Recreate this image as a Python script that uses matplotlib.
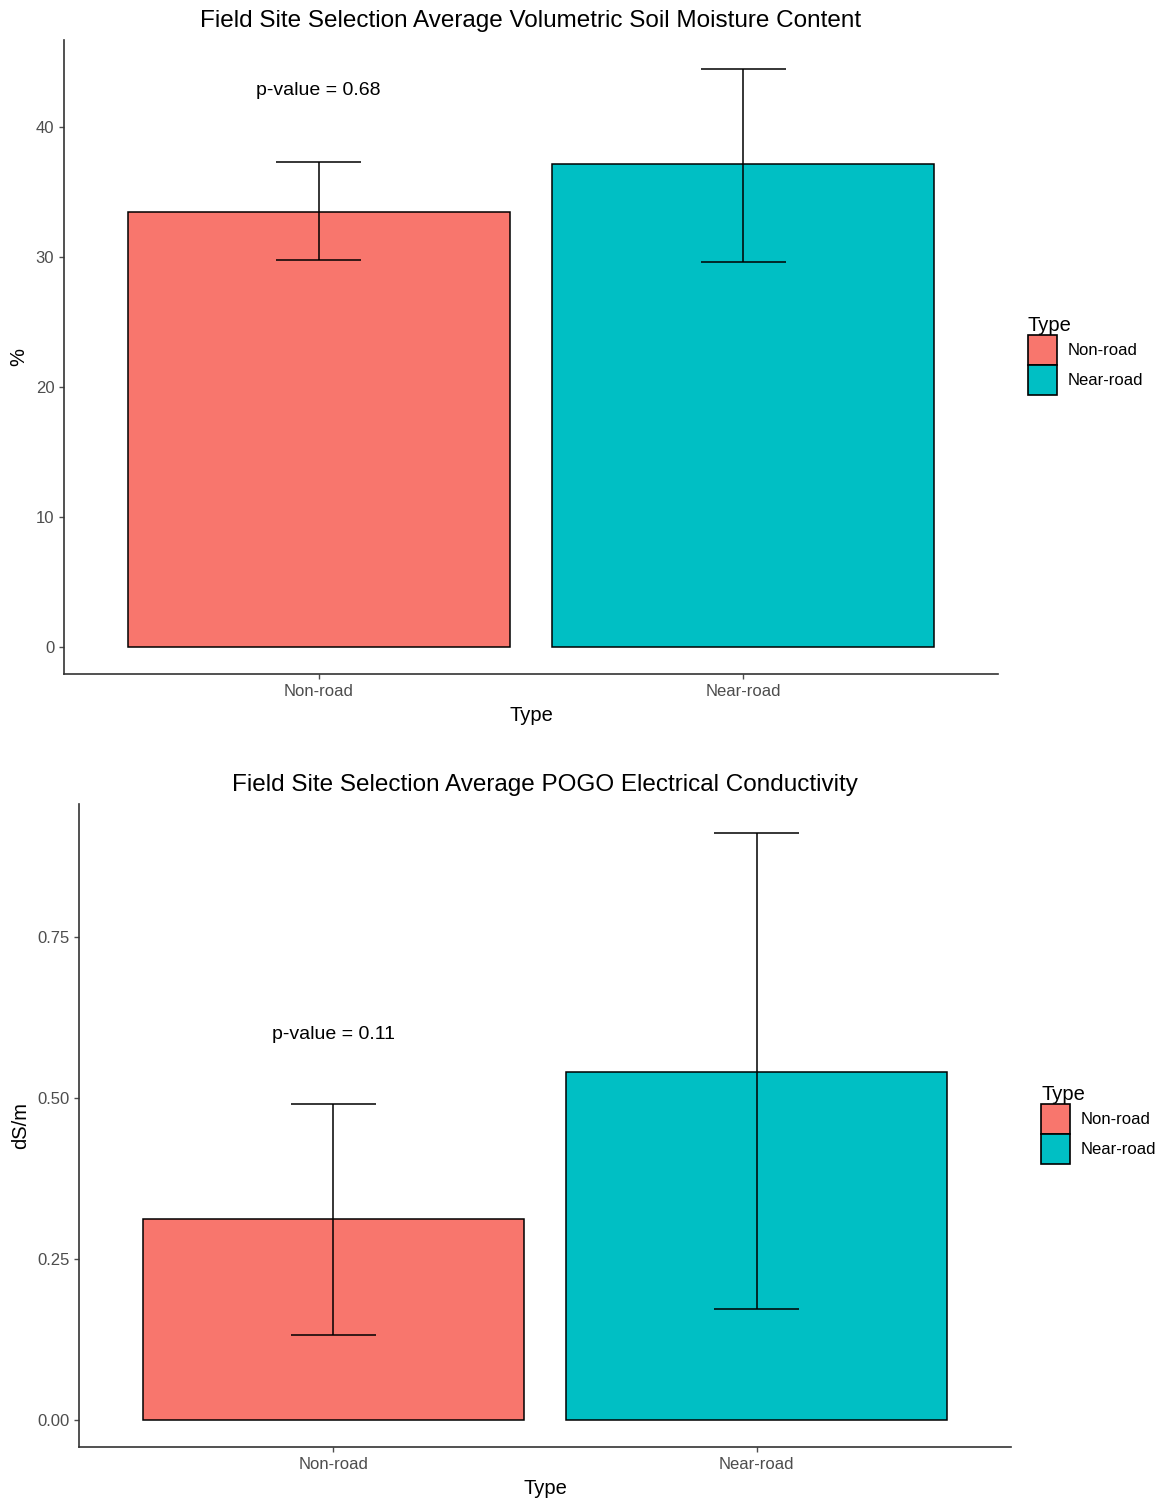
import matplotlib
matplotlib.use("Agg")
import matplotlib.pyplot as plt
from matplotlib.patches import Patch

plt.rcParams['font.family'] = ['Liberation Sans', 'DejaVu Sans']

# data
types = ["Non-road", "Near-road"]
colors = ["#F8766D", "#00BFC4"]

vsm_mean = [33.5, 37.15]
vsm_lo = [29.8, 29.65]
vsm_hi = [37.35, 44.5]
vsm_p = "p-value = 0.68"
vsm_ticks = [0, 10, 20, 30, 40]

ec_mean = [0.312, 0.540]
ec_lo = [0.132, 0.172]
ec_hi = [0.491, 0.911]
ec_p = "p-value = 0.11"
ec_ticks = [0.00, 0.25, 0.50, 0.75]
ec_ticklabels = ["0.00", "0.25", "0.50", "0.75"]

W, H = 1162, 1502
fig = plt.figure(figsize=(W / 100, H / 100), dpi=100)


def px_axes(left, top, right, bottom):
    return fig.add_axes([left / W, 1 - bottom / H, (right - left) / W, (bottom - top) / H])


def panel(ax, means, lo, hi, title, ylabel, ticks, ticklabels, ylim, ptxt, py, legend_xy):
    x = list(range(1, len(types) + 1))
    ax.bar(x, means, width=0.9, color=colors, edgecolor="black", linewidth=1.1, zorder=2)
    ax.vlines(x, lo, hi, color="black", linewidth=1.1, zorder=3)
    ax.hlines(lo, [i - 0.1 for i in x], [i + 0.1 for i in x], color="black", linewidth=1.1, zorder=3)
    ax.hlines(hi, [i - 0.1 for i in x], [i + 0.1 for i in x], color="black", linewidth=1.1, zorder=3)
    ax.text(1, py, ptxt, ha="center", va="center", fontsize=14, color="black")

    ax.set_xlim(0.4, 2.6)
    ax.set_ylim(*ylim)
    ax.set_xticks(x)
    ax.set_xticklabels(types)
    ax.set_yticks(ticks)
    ax.set_yticklabels(ticklabels)
    ax.tick_params(colors="#4D4D4D", labelcolor="#4D4D4D", labelsize=12, length=3.5, width=1)
    for s in ["top", "right"]:
        ax.spines[s].set_visible(False)
    for s in ["left", "bottom"]:
        ax.spines[s].set_color("#333333")
        ax.spines[s].set_linewidth(1.2)
    ax.set_xlabel("Type", fontsize=14.5, labelpad=5)
    ax.set_ylabel(ylabel, fontsize=14.5, labelpad=5)
    ax.set_title(title, fontsize=17.5, pad=9)

    handles = [Patch(facecolor=c, edgecolor="black", linewidth=1.2) for c in colors]
    leg = fig.legend(handles, types, title="Type", loc="upper left",
                     bbox_to_anchor=(legend_xy[0] / W, 1 - legend_xy[1] / H),
                     frameon=False, fontsize=12, title_fontsize=14.5,
                     handlelength=1.75, handleheight=2.4, labelspacing=0.0,
                     handletextpad=0.6, borderpad=0, borderaxespad=0)
    leg._legend_box.align = "left"


ax1 = px_axes(64, 40, 998, 674)
panel(ax1, vsm_mean, vsm_lo, vsm_hi,
      "Field Site Selection Average Volumetric Soil Moisture Content", "%",
      vsm_ticks, [str(t) for t in vsm_ticks], (-2.08, 46.7), vsm_p, 42.8, (1028, 316))

ax2 = px_axes(79, 804, 1011, 1447)
panel(ax2, ec_mean, ec_lo, ec_hi,
      "Field Site Selection Average POGO Electrical Conductivity", "dS/m",
      ec_ticks, ec_ticklabels, (-0.042, 0.956), ec_p, 0.598, (1041, 1085))

fig.savefig("out.png", dpi=100)
